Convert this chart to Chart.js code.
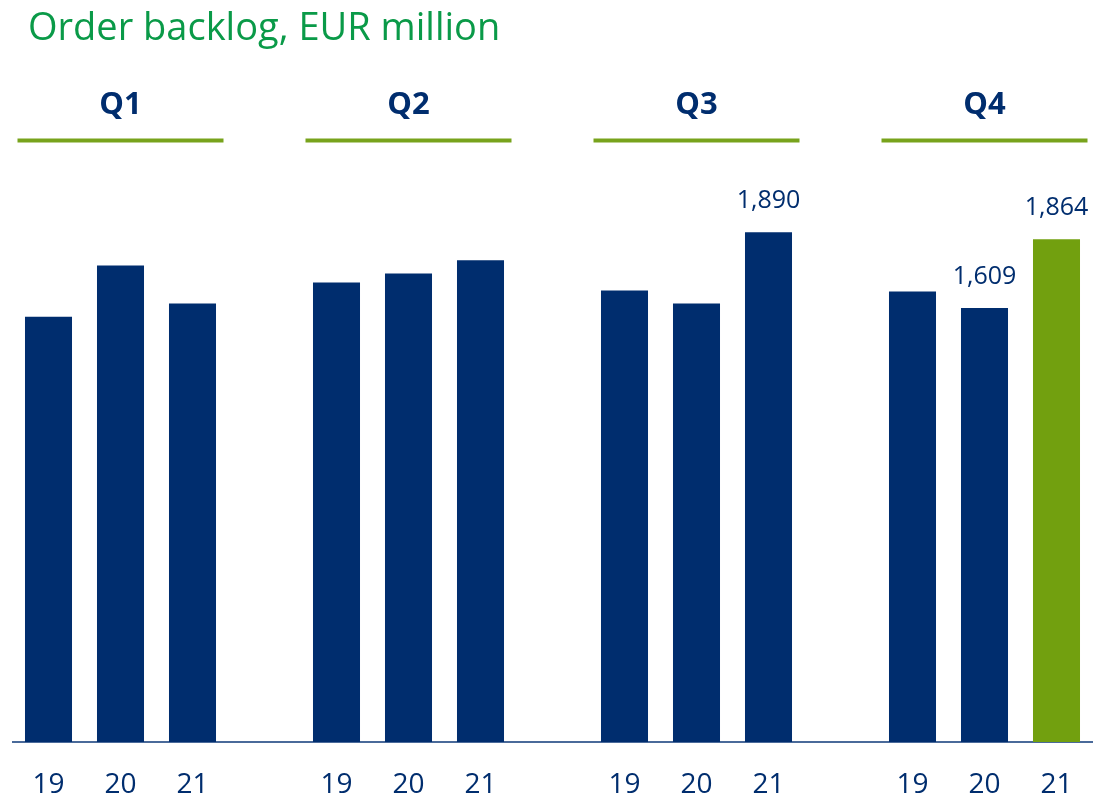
<!DOCTYPE html>
<html>
<head>
<meta charset="utf-8">
<script src="https://cdn.jsdelivr.net/npm/chart.js@4"></script>
<style>
  html, body { margin: 0; padding: 0; background: #fff; }
  canvas { display: block; }
</style>
</head>
<body>
<canvas id="backlogChart" width="1111" height="795"></canvas>
<script>
const categories = ['19', '20', '21', '', '19', '20', '21', '', '19', '20', '21', '', '19', '20', '21'];
const backlog = [1577, 1767, 1626, null, 1704, 1737, 1786, null, 1674, 1626, 1890, null, 1670, 1609, 1864];
const valueLabels = ['', '', '', '', '', '', '', '', '', '', '1,890', '', '', '1,609', '1,864'];
const quarters = ['Q1', 'Q2', 'Q3', 'Q4'];
const quarterMiddle = [1, 5, 9, 13];

const navy = '#002d6e';
const barColors = backlog.map((v, i) => i === backlog.length - 1 ? '#72a00f' : navy);

const overlay = {
    id: 'overlay',
    afterDatasetsDraw(chart) {
        const ctx = chart.ctx;
        const x = chart.scales.x;
        const y = chart.scales.y;
        ctx.save();

        // title
        ctx.fillStyle = '#0a9a48';
        ctx.font = '38px "Open Sans", sans-serif';
        ctx.textAlign = 'left';
        ctx.textBaseline = 'alphabetic';
        ctx.fillText('Order backlog, EUR million', 28, 40);

        // quarter headers + green rules
        quarters.forEach((q, i) => {
            const cx = x.getPixelForValue(quarterMiddle[i]);
            ctx.fillStyle = navy;
            ctx.font = 'bold 31px "Open Sans", sans-serif';
            ctx.textAlign = 'center';
            ctx.textBaseline = 'middle';
            ctx.fillText(q, cx, 105);
            ctx.fillStyle = '#78a31c';
            ctx.fillRect(cx - 103, 138.5, 206, 4);
        });

        // value labels
        ctx.fillStyle = navy;
        ctx.font = '25px "Open Sans", sans-serif';
        ctx.textAlign = 'center';
        ctx.textBaseline = 'middle';
        valueLabels.forEach((txt, i) => {
            if (!txt) return;
            ctx.fillText(txt, x.getPixelForValue(i), y.getPixelForValue(backlog[i]) - 31);
        });
        ctx.restore();
    }
};

new Chart(document.getElementById('backlogChart').getContext('2d'), {
    type: 'bar',
    data: {
        labels: categories,
        datasets: [{
            data: backlog,
            backgroundColor: barColors,
            borderWidth: 0,
            categoryPercentage: 1,
            barPercentage: 0.653
        }]
    },
    options: {
        responsive: false,
        animation: false,
        layout: {
            padding: { top: 160, left: 12.5, right: 18.5, bottom: -33 }
        },
        scales: {
            y: {
                display: false,
                min: 0,
                max: 2158
            },
            x: {
                grid: { display: false, drawTicks: false },
                border: { display: true, color: '#4a6a9a', width: 2 },
                ticks: {
                    color: navy,
                    padding: 29,
                    font: { size: 28, family: '"Open Sans", sans-serif', lineHeight: 1 }
                }
            }
        },
        plugins: {
            legend: { display: false },
            tooltip: { enabled: false }
        }
    },
    plugins: [overlay]
});
</script>
</body>
</html>
